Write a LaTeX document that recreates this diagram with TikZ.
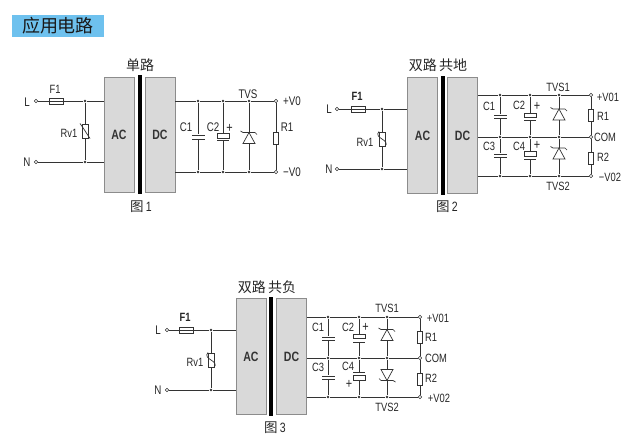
\documentclass[tikz,border=0pt]{standalone}
\usepackage{fontspec}
\setmainfont{Liberation Sans}[FakeStretch=0.78]
\newfontfamily\cjk{Noto Sans CJK SC}
\definecolor{wire}{HTML}{333333}
\definecolor{blockfill}{HTML}{D9D9D9}
\definecolor{blockline}{HTML}{8C8C8C}
\definecolor{banner}{HTML}{6EC1EE}
\tikzset{
	tvs/.pic={
		\coordinate (-top) at (0,-5.5);
		\coordinate (-bot) at (0,5.5);
		\draw[wire,line width=.7pt] (-6,5.5) -- (6,5.5) -- (0,-5.5) -- cycle;
		\draw[wire,line width=.7pt] (-8.5,-7) -- (-6,-5.5) -- (6,-5.5) -- (8,-3.5);
	},
	varistor/.pic={
		\draw[wire,line width=.7pt] (-5,-8) -- (-3.5,-6) -- (5,7);
	},
	varistors/.pic={
		\draw[wire,line width=.7pt] (-3,-8) .. controls (-9,-1) and (9,0) .. (3,7);
	}
}
\begin{document}
\begin{tikzpicture}[x=1pt,y=-1pt,
	wire/.style={draw=wire,line width=.7pt},
	block/.style={draw=blockline,fill=blockfill,line width=1pt,minimum width=30pt,minimum height=115.5pt,inner sep=0pt,font=\bfseries\fontsize{13.5}{13.5}\selectfont,text=black!80},
	core/.style={fill=black,minimum width=4pt,minimum height=119pt,inner sep=0pt},
	term/.style={circle,draw=wire,fill=white,line width=.6pt,minimum size=3.6pt,inner sep=0pt},
	dot/.style={circle,fill=wire,minimum size=2.8pt,inner sep=0pt},
	fuse/.style={draw=wire,line width=.7pt,minimum width=14pt,minimum height=6pt,inner sep=0pt},
	res/.style={draw=wire,fill=white,line width=.7pt,minimum width=5pt,minimum height=12pt,inner sep=0pt},
	rv/.style={res,minimum width=6pt,minimum height=14pt},
	plate/.style={fill=wire,minimum width=13pt,minimum height=1pt,inner sep=0pt},
	ecap/.style={draw=wire,fill=white,line width=.7pt,minimum width=12pt,minimum height=4.5pt,inner sep=0pt},
	lab/.style={inner sep=0pt,text=black!85,font=\fontsize{12}{12}\selectfont},
	lab1/.style={lab,font=\fontsize{12.5}{12.5}\selectfont},
	blab/.style={lab,font=\bfseries\fontsize{12}{12}\selectfont},
	plus/.style={lab,font=\fontsize{14}{14}\selectfont},
	head/.style={inner sep=0pt,text=black!85,font=\cjk\fontsize{14}{14}\selectfont},
	capt/.style={inner sep=0pt,text=black!85,font=\cjk\fontsize{13.5}{13.5}\selectfont}]
\useasboundingbox (0,0) rectangle (638,445);
\node[fill=banner,minimum width=92pt,minimum height=22pt,inner sep=0pt,text=black!90,font=\cjk\fontsize{18}{18}\selectfont] (banner) at (58,26) {应用电路};

% fig 1
\node[head] (title1) at (140,65) {单路};
\node[block] (ac1) at (119,135) {AC};
\node[core] (core1) at (139.5,134.5) {};
\node[block] (dc1) at (160,135) {DC};
\node[capt] (cap1) at (141,207) {图\,{\rmfamily 1}};
\node[term] (L1) at (36,101) {};
\node[term] (N1) at (36,162) {};
\node[lab1] (Llab1) at (27,102) {L};
\node[lab1] (Nlab1) at (27,162) {N};
\node[fuse] (F1a) at (56,101) {};
\node[lab] (Flab1) at (55,89) {F1};
\node[dot] (LJ1) at (85,101) {};
\node[dot] (NJ1) at (85,162) {};
\node[rv] (Rv1) at (85,131.5) {};
\node[lab] (Rvlab1) at (69,133) {Rv1};
\coordinate (acL1) at (104,101);
\coordinate (acN1) at (104,162);
\coordinate (dcP1) at (175,101);
\coordinate (dcM1) at (175,172);
\foreach \name/\x in {a/198,b/223,c/249} {
	\node[dot] (P\name1) at (\x,101) {};
	\node[dot] (M\name1) at (\x,172) {};
}
\node[term] (VP1) at (276,101) {};
\node[term] (VM1) at (276,172) {};
\node[plate] (C1t) at (198,135) {};
\node[plate] (C1b) at (198,139.5) {};
\node[ecap] (C2t) at (223,136) {};
\node[plate,minimum width=12pt] (C2b) at (223,140.5) {};
\pic (T1) at (249,138) {tvs};
\node[res] (R1) at (276,138.5) {};
\node[lab1] (C1lab) at (186,127) {C1};
\node[lab1] (C2lab) at (213,127) {C2};
\node[plus] (C2p) at (229.5,128) {+};
\node[lab1] (Tlab1) at (248,94) {TVS};
\node[lab1] (Vplab1) at (292,101) {+V0};
\node[lab1] (Vmlab1) at (292,172.5) {−V0};
\node[lab1] (Rlab1) at (287,127) {R1};
\draw[wire] (L1) -- (LJ1) -- (acL1);
\draw[wire] (N1) -- (NJ1) -- (acN1);
\draw[wire] (LJ1) -- (Rv1.north);
\draw[wire] (Rv1.south) -- (NJ1);
\draw[wire] (dcP1) -- (Pa1) -- (Pb1) -- (Pc1) -- (VP1);
\draw[wire] (dcM1) -- (Ma1) -- (Mb1) -- (Mc1) -- (VM1);
\draw[wire] (Pa1) -- (C1t);
\draw[wire] (C1b) -- (Ma1);
\draw[wire] (Pb1) -- (C2t.north);
\draw[wire] (C2b) -- (Mb1);
\draw[wire] (Pc1) -- (T1-top);
\draw[wire] (T1-bot) -- (Mc1);
\draw[wire] (VP1) -- (R1.north);
\draw[wire] (R1.south) -- (VM1);
\pic at (85,131.5) {varistor};

% fig 2
\node[head] (title2) at (438,65) {双路\,共地};
\node[block] (ac2) at (422.5,135.5) {AC};
\node[core] (core2) at (442.5,135.5) {};
\node[block] (dc2) at (462.5,135.5) {DC};
\node[capt] (cap2) at (447,207) {图\,{\rmfamily 2}};
\node[term] (L2) at (337,109) {};
\node[term] (N2) at (337,169) {};
\node[lab1] (Llab2) at (329,109) {L};
\node[lab1] (Nlab2) at (329,169) {N};
\node[fuse] (F2a) at (358,109) {};
\node[blab] (Flab2) at (357,96) {F1};
\node[dot] (LJ2) at (382,109) {};
\node[dot] (NJ2) at (382,169) {};
\node[rv] (Rv2) at (382,139.5) {};
\node[lab] (Rvlab2) at (365,142) {Rv1};
\coordinate (acL2) at (407,109);
\coordinate (acN2) at (407,169);
\coordinate (dcP2) at (478,95);
\coordinate (dcG2) at (478,137);
\coordinate (dcM2) at (478,176);
\foreach \name/\x in {a/500,b/530,c/559} {
	\node[dot] (P\name2) at (\x,95) {};
	\node[dot] (G\name2) at (\x,137) {};
	\node[dot] (M\name2) at (\x,176) {};
}
\node[term] (VP2) at (591,95) {};
\node[term] (VG2) at (591,137) {};
\node[term] (VM2) at (591,176) {};
\node[plate] (C1t2) at (500,115) {};
\node[plate] (C1b2) at (500,118) {};
\node[plate] (C3t2) at (500,154) {};
\node[plate] (C3b2) at (500,157) {};
\node[ecap] (C2t2) at (530,115.5) {};
\node[plate,minimum width=12pt] (C2b2) at (530,120.5) {};
\node[ecap] (C4t2) at (530,154) {};
\node[plate,minimum width=12pt] (C4b2) at (530,159) {};
\pic (T12) at (559,114.5) {tvs};
\pic (T22) at (559,153.5) {tvs};
\node[res] (R12) at (591,115) {};
\node[res] (R22) at (591,158) {};
\node[lab] (C1lab2) at (489,106) {C1};
\node[lab] (C2lab2) at (519,105) {C2};
\node[plus] (C2p2) at (537,106) {+};
\node[lab] (C3lab2) at (489,146) {C3};
\node[lab] (C4lab2) at (519,146) {C4};
\node[plus] (C4p2) at (537,145) {+};
\node[lab] (T1lab2) at (558,87) {TVS1};
\node[lab] (T2lab2) at (558,186) {TVS2};
\node[lab] (Vplab2) at (608,97) {+V01};
\node[lab] (Vglab2) at (605,137) {COM};
\node[lab] (Vmlab2) at (610,177) {−V02};
\node[lab] (Rlab12) at (603,116) {R1};
\node[lab] (Rlab22) at (603,157) {R2};
\draw[wire] (L2) -- (LJ2) -- (acL2);
\draw[wire] (N2) -- (NJ2) -- (acN2);
\draw[wire] (LJ2) -- (Rv2.north);
\draw[wire] (Rv2.south) -- (NJ2);
\draw[wire] (dcP2) -- (Pa2) -- (Pb2) -- (Pc2) -- (VP2);
\draw[wire] (dcG2) -- (Ga2) -- (Gb2) -- (Gc2) -- (VG2);
\draw[wire] (dcM2) -- (Ma2) -- (Mb2) -- (Mc2) -- (VM2);
\draw[wire] (Pa2) -- (C1t2);
\draw[wire] (C1b2) -- (Ga2) -- (C3t2);
\draw[wire] (C3b2) -- (Ma2);
\draw[wire] (Pb2) -- (C2t2.north);
\draw[wire] (C2b2) -- (Gb2) -- (C4t2.north);
\draw[wire] (C4b2) -- (Mb2);
\draw[wire] (Pc2) -- (T12-top);
\draw[wire] (T12-bot) -- (Gc2) -- (T22-top);
\draw[wire] (T22-bot) -- (Mc2);
\draw[wire] (VP2) -- (R12.north);
\draw[wire] (R12.south) -- (VG2) -- (R22.north);
\draw[wire] (R22.south) -- (VM2);
\pic at (382,139.5) {varistors};

% fig 3
\node[head] (title3) at (267,287) {双路\,共负};
\node[block] (ac3) at (251,356.5) {AC};
\node[core] (core3) at (271,356.5) {};
\node[block] (dc3) at (291.5,356.5) {DC};
\node[capt] (cap3) at (275,428) {图\,{\rmfamily 3}};
\node[term] (L3) at (167,330) {};
\node[term] (N3) at (167,390) {};
\node[lab1] (Llab3) at (158,330) {L};
\node[lab1] (Nlab3) at (158,390) {N};
\node[fuse] (F3a) at (186,330) {};
\node[blab] (Flab3) at (185,317) {F1};
\node[dot] (LJ3) at (211,330) {};
\node[dot] (NJ3) at (211,390) {};
\node[rv] (Rv3) at (211,360.5) {};
\node[lab] (Rvlab3) at (195,362) {Rv1};
\coordinate (acL3) at (235.5,330);
\coordinate (acN3) at (235.5,390);
\coordinate (dcP3) at (307,317);
\coordinate (dcG3) at (307,358);
\coordinate (dcM3) at (307,397);
\foreach \name/\x in {a/328,b/359,c/387} {
	\node[dot] (P\name3) at (\x,317) {};
	\node[dot] (G\name3) at (\x,358) {};
	\node[dot] (M\name3) at (\x,397) {};
}
\node[term] (VP3) at (420,317) {};
\node[term] (VG3) at (420,358) {};
\node[term] (VM3) at (420,397) {};
\node[plate] (C1t3) at (328,337) {};
\node[plate] (C1b3) at (328,340) {};
\node[plate] (C3t3) at (328,376) {};
\node[plate] (C3b3) at (328,379) {};
\node[ecap] (C2t3) at (359,336.5) {};
\node[plate,minimum width=12pt] (C2b3) at (359,342) {};
\node[plate,minimum width=12pt] (C4t3) at (359,372.5) {};
\node[ecap] (C4b3) at (359,378) {};
\pic (T13) at (387,335) {tvs};
\pic[rotate=180] (T23) at (387,375) {tvs};
\node[res] (R13) at (420,337) {};
\node[res] (R23) at (420,379) {};
\node[lab] (C1lab3) at (318,327) {C1};
\node[lab] (C2lab3) at (348,327) {C2};
\node[plus] (C2p3) at (365.5,327) {+};
\node[lab] (C3lab3) at (318,367) {C3};
\node[lab] (C4lab3) at (348,366) {C4};
\node[plus] (C4p3) at (349,384) {+};
\node[lab] (T1lab3) at (387,308) {TVS1};
\node[lab] (T2lab3) at (387,407) {TVS2};
\node[lab] (Vplab3) at (438,318) {+V01};
\node[lab] (Vglab3) at (436,358) {COM};
\node[lab] (Vmlab3) at (439,398) {+V02};
\node[lab] (Rlab13) at (431,337) {R1};
\node[lab] (Rlab23) at (431,378) {R2};
\draw[wire] (L3) -- (LJ3) -- (acL3);
\draw[wire] (N3) -- (NJ3) -- (acN3);
\draw[wire] (LJ3) -- (Rv3.north);
\draw[wire] (Rv3.south) -- (NJ3);
\draw[wire] (dcP3) -- (Pa3) -- (Pb3) -- (Pc3) -- (VP3);
\draw[wire] (dcG3) -- (Ga3) -- (Gb3) -- (Gc3) -- (VG3);
\draw[wire] (dcM3) -- (Ma3) -- (Mb3) -- (Mc3) -- (VM3);
\draw[wire] (Pa3) -- (C1t3);
\draw[wire] (C1b3) -- (Ga3) -- (C3t3);
\draw[wire] (C3b3) -- (Ma3);
\draw[wire] (Pb3) -- (C2t3.north);
\draw[wire] (C2b3) -- (Gb3) -- (C4t3);
\draw[wire] (C4b3.south) -- (Mb3);
\draw[wire] (Pc3) -- (T13-top);
\draw[wire] (T13-bot) -- (Gc3) -- (T23-bot);
\draw[wire] (T23-top) -- (Mc3);
\draw[wire] (VP3) -- (R13.north);
\draw[wire] (R13.south) -- (VG3) -- (R23.north);
\draw[wire] (R23.south) -- (VM3);
\pic at (211,360.5) {varistors};
\end{tikzpicture}
\end{document}
